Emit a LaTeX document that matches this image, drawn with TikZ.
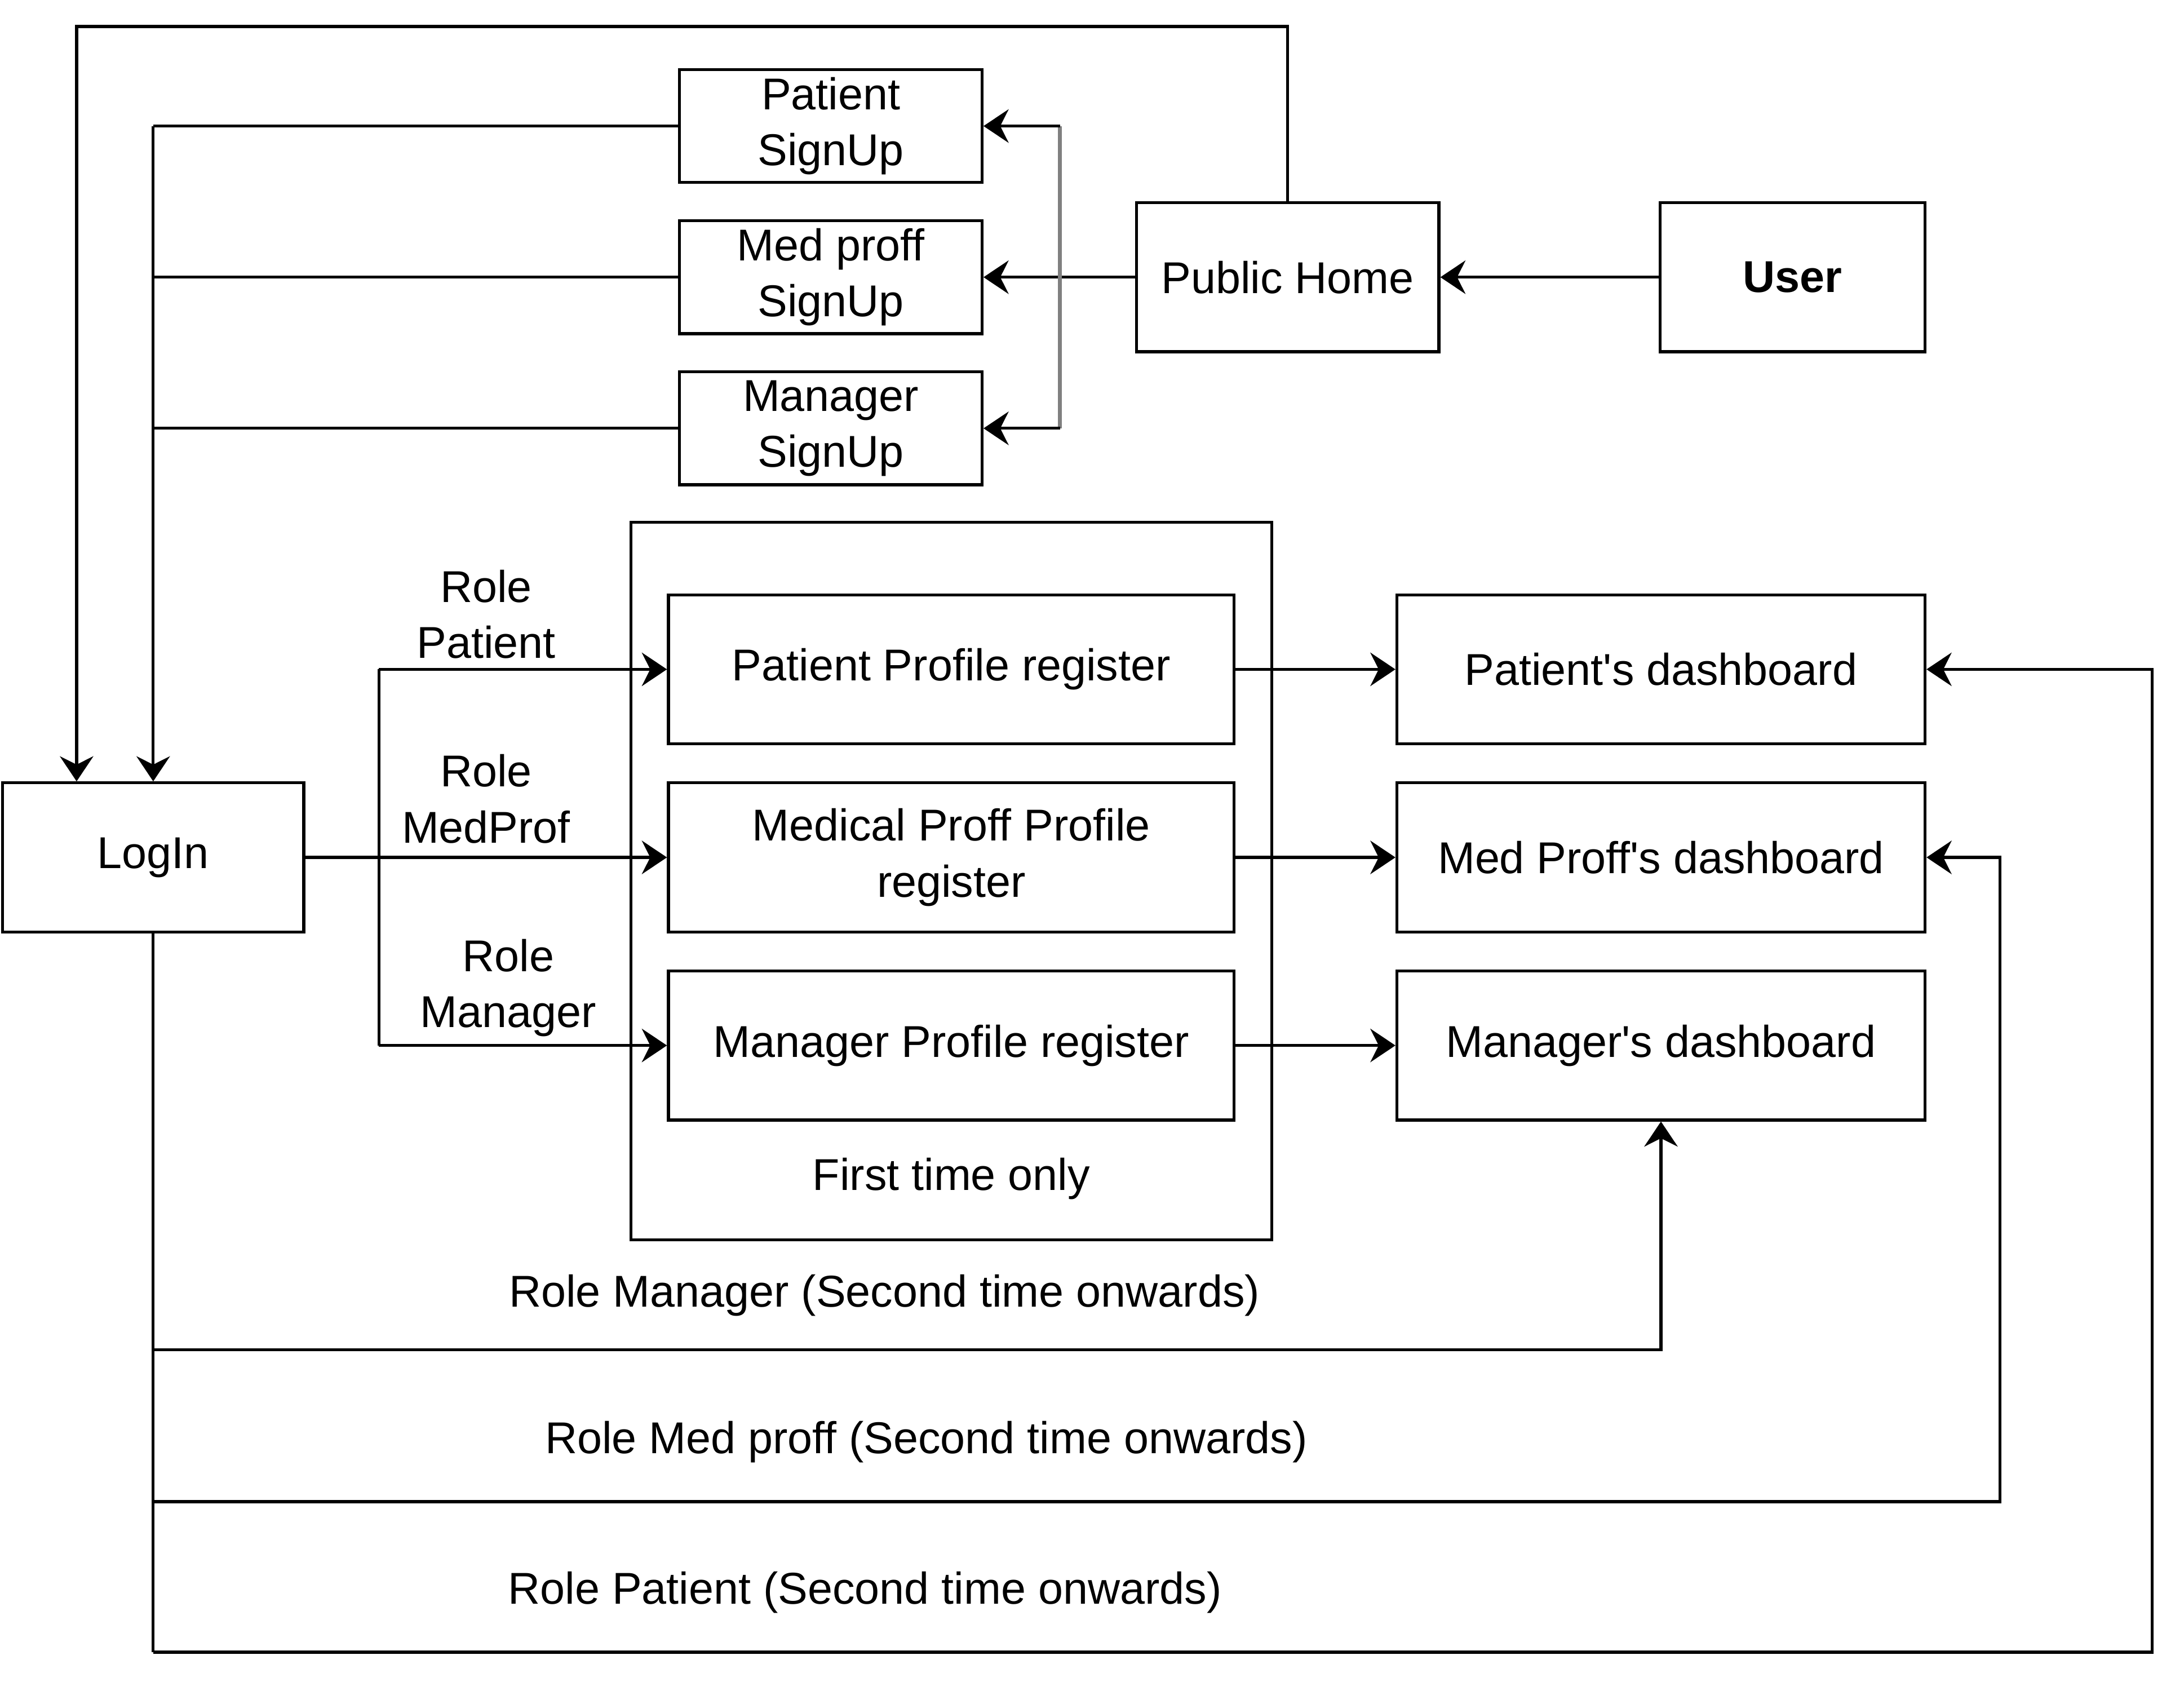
\documentclass[tikz,border=0pt]{standalone}
\usepackage{fontspec}
\setmainfont{Liberation Sans}
\usetikzlibrary{arrows.meta, positioning}

\tikzset{
  box/.style={draw, line width=0.6pt, align=center, inner sep=0pt, font=\fontsize{9.1pt}{11.4pt}\selectfont},
  lbl/.style={align=center, inner sep=0pt, font=\fontsize{9.1pt}{11.4pt}\selectfont},
  wire/.style={line width=0.6pt},
  gwire/.style={line width=0.8pt, draw={rgb,255:red,128;green,128;blue,128}},
  arr/.style={wire, -{Stealth[length=1.8mm, width=2.4mm, inset=0.6mm]}},
}

\begin{document}
\begin{tikzpicture}[x=0.01cm, y=-0.01cm]
  \useasboundingbox (0,0) rectangle (1568,1210);

  % top row
  \node[box, minimum width=2.17cm, minimum height=0.81cm] (psign) at (596.5,90.5) {Patient\\SignUp};
  \node[box, minimum width=2.17cm, minimum height=0.81cm] (msign) at (596.5,199) {Med proff\\SignUp};
  \node[box, minimum width=2.17cm, minimum height=0.81cm] (gsign) at (596.5,307.5) {Manager\\SignUp};
  \node[box, minimum width=2.17cm, minimum height=1.07cm] (home) at (924.5,199) {Public Home};
  \node[box, minimum width=1.90cm, minimum height=1.07cm] (user) at (1287,199) {\textbf{User}};

  % login
  \node[box, minimum width=2.16cm, minimum height=1.07cm] (login) at (110,615.5) {LogIn};

  % first time only
  \node[box, minimum width=4.60cm, minimum height=5.15cm] (first) at (683,632.5) {};
  \node[lbl] (firstlbl) at (683,846) {First time only};
  \node[box, minimum width=4.06cm, minimum height=1.07cm] (patreg) at (683,480.5) {Patient Profile register};
  \node[box, minimum width=4.06cm, minimum height=1.07cm] (medreg) at (683,615.5) {Medical Proff Profile\\register};
  \node[box, minimum width=4.06cm, minimum height=1.07cm] (manreg) at (683,750.5) {Manager Profile register};

  % dashboards
  \node[box, minimum width=3.79cm, minimum height=1.07cm] (patdash) at (1192.5,480.5) {Patient\textquotesingle s dashboard};
  \node[box, minimum width=3.79cm, minimum height=1.07cm] (meddash) at (1192.5,615.5) {Med Proff\textquotesingle s dashboard};
  \node[box, minimum width=3.79cm, minimum height=1.07cm] (mandash) at (1192.5,750.5) {Manager\textquotesingle s dashboard};

  % labels
  \node[lbl] (lpat) at (349,441) {Role\\Patient};
  \node[lbl] (lmed) at (349,573.5) {Role\\MedProf};
  \node[lbl] (lman) at (365,709) {Role\\Manager};
  \node[lbl] (lman2) at (635,930) {Role Manager (Second time onwards)};
  \node[lbl] (lmed2) at (665,1035) {Role Med proff (Second time onwards)};
  \node[lbl] (lpat2) at (621,1143) {Role Patient (Second time onwards)};

  % bends
  \coordinate (ltop) at (55,19);
  \coordinate (bus) at (110,90.5);
  \coordinate (split) at (761,199);
  \coordinate (fork) at (272,615.5);
  \coordinate (r3) at (110,969);
  \coordinate (r2) at (110,1078);
  \coordinate (down) at (110,1186);
  \coordinate (c2) at (1436,615.5);
  \coordinate (c1) at (1545,480.5);

  % user -> home -> sign ups
  \draw[arr] (user.west) -- (home.east);
  \draw[arr] (home.west) -- (msign.east);
  \draw[gwire] (split |- psign.east) -- (split |- gsign.east);
  \draw[arr] (split |- psign.east) -- (psign.east);
  \draw[arr] (split |- gsign.east) -- (gsign.east);
  \draw[arr] (home.north) |- (ltop) -- (ltop |- login.north);

  % sign ups -> login
  \draw[wire] (psign.west) -- (bus);
  \draw[wire] (msign.west) -- (bus |- msign.west);
  \draw[wire] (gsign.west) -- (bus |- gsign.west);
  \draw[arr] (bus) -- (login.north);

  % login -> profile register
  \draw[arr] (login.east) -- (medreg.west);
  \draw[wire] (fork |- patreg.west) -- (fork |- manreg.west);
  \draw[arr] (fork |- patreg.west) -- (patreg.west);
  \draw[arr] (fork |- manreg.west) -- (manreg.west);

  % profile register -> dashboard
  \draw[arr] (patreg.east) -- (patdash.west);
  \draw[arr] (medreg.east) -- (meddash.west);
  \draw[arr] (manreg.east) -- (mandash.west);

  % second time onwards
  \draw[wire] (login.south) -- (down);
  \draw[arr] (r3) -| (mandash.south);
  \draw[arr] (r2) -| (c2) -- (meddash.east);
  \draw[arr] (down) -| (c1) -- (patdash.east);
\end{tikzpicture}
\end{document}
